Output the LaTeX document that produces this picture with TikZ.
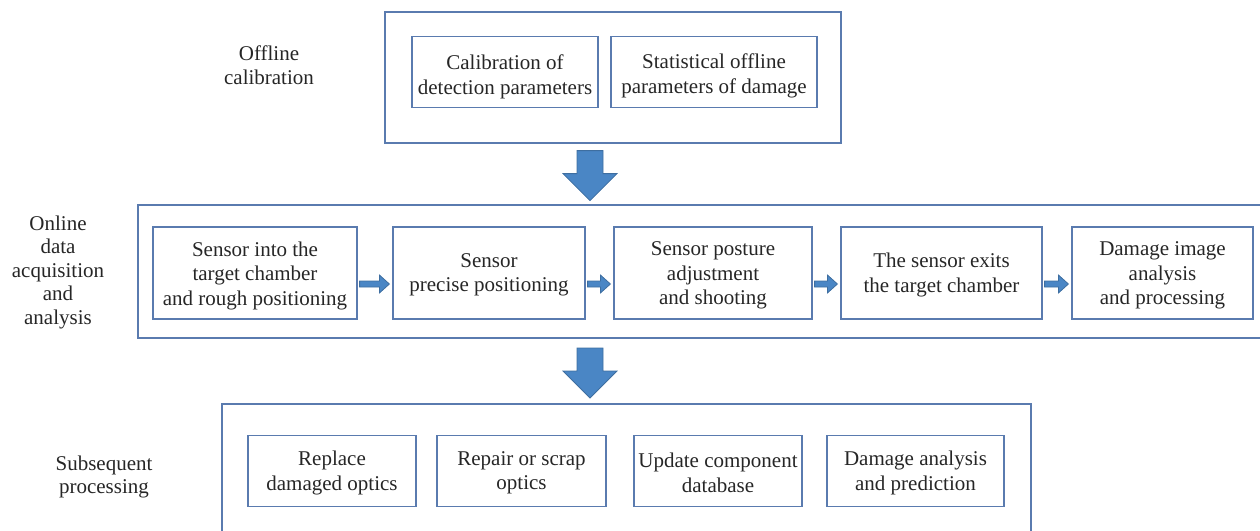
\documentclass[tikz,border=0pt]{standalone}
\usepackage{fontspec}
\setmainfont{Liberation Serif}
\usetikzlibrary{calc}
\definecolor{framec}{HTML}{5A7BAF}
\definecolor{arrfill}{HTML}{4A86C5}
\definecolor{arrdraw}{HTML}{3E6EA0}
\definecolor{txt}{HTML}{262626}
\tikzset{
  stepbox/.style={draw=framec, line width=1.2pt, inner sep=0pt},
  boxtext/.style={align=center, inner sep=0pt, text=txt, font=\fontsize{21}{24.5}\selectfont},
  framebox/.style={draw=framec, line width=1.2pt, inner sep=0pt},
  framepath/.style={draw=framec, line width=1.2pt},
  sidelabel/.style={align=center, text=txt, font=\fontsize{21}{23.5}\selectfont, inner sep=0pt},
  barrow/.style={fill=arrfill, draw=arrdraw, line width=0.8pt, line join=miter},
}
\newcommand\smallarr[2]{%
  \draw[barrow] ([shift={(2,8)}]#1.east) -- ([shift={(-13,8)}]#2.west) -- ([shift={(-13,2)}]#2.west)
   -- ([shift={(-3,11)}]#2.west) -- ([shift={(-13,20)}]#2.west) -- ([shift={(-13,14)}]#2.west)
   -- ([shift={(2,14)}]#1.east) -- cycle;}
\newcommand\bigarr[1]{%
  \draw[barrow] ([shift={(-13,0)}]#1) -- ([shift={(13,0)}]#1) -- ([shift={(13,23)}]#1)
   -- ([shift={(27,23)}]#1) -- ([shift={(0,50)}]#1) -- ([shift={(-27,23)}]#1)
   -- ([shift={(-13,23)}]#1) -- cycle;}
\begin{document}
\begin{tikzpicture}[x=1pt,y=-1pt]
\useasboundingbox (0,0) rectangle (1260,530);
% frames
\node[framebox, minimum width=456pt, minimum height=131pt] (f1) at (613,77.5) {};
\coordinate (f2tr) at (1262,205);
\coordinate (f2tl) at (138,205);
\coordinate (f2bl) at (138,338);
\coordinate (f2br) at (1262,338);
\draw[framepath] (f2tr) -- (f2tl) -- (f2bl) -- (f2br);
\coordinate (f3bl) at (222,532);
\coordinate (f3tl) at (222,404);
\coordinate (f3tr) at (1031,404);
\coordinate (f3br) at (1031,532);
\draw[framepath] (f3bl) -- (f3tl) -- (f3tr) -- (f3br);
% labels
\node[sidelabel] (l1) at (269,65) {Offline\\calibration};
\node[sidelabel] (l2) at (58,272) {Online\\data\\acquisition\\and\\analysis};
\node[sidelabel] (l3) at (104,477) {Subsequent\\processing};
% top boxes
\node[stepbox, minimum width=186pt, minimum height=71pt] (c1) at (505,72) {};
\node[boxtext] (c1t) at ([shift={(0,5)}]c1.center) {Calibration of\\detection parameters};
\node[stepbox, minimum width=206pt, minimum height=71pt] (c2) at (714,72) {};
\node[boxtext] (c2t) at ([shift={(0,4)}]c2.center) {Statistical offline\\parameters of damage};
% middle boxes
\node[stepbox, minimum width=204pt, minimum height=92pt] (b1) at (255,273) {};
\node[boxtext] (b1t) at ([shift={(0,2.5)}]b1.center) {Sensor into the\\target chamber\\and rough positioning};
\node[stepbox, minimum width=192pt, minimum height=92pt] (b2) at (489,273) {};
\node[boxtext] (b2t) at ([shift={(0,2)}]b2.center) {Sensor\\precise positioning};
\node[stepbox, minimum width=198pt, minimum height=92pt] (b3) at (713,273) {};
\node[boxtext] (b3t) at ([shift={(0,2.5)}]b3.center) {Sensor posture\\adjustment\\and shooting};
\node[stepbox, minimum width=201pt, minimum height=92pt] (b4) at (941.5,273) {};
\node[boxtext] (b4t) at ([shift={(0,2)}]b4.center) {The sensor exits\\the target chamber};
\node[stepbox, minimum width=181pt, minimum height=92pt] (b5) at (1162.5,273) {};
\node[boxtext] (b5t) at ([shift={(0,2.5)}]b5.center) {Damage image\\analysis\\and processing};
% bottom boxes
\node[stepbox, minimum width=168pt, minimum height=71pt] (d1) at (332,471) {};
\node[boxtext] (d1t) at ([shift={(0,2)}]d1.center) {Replace\\damaged optics};
\node[stepbox, minimum width=169pt, minimum height=71pt] (d2) at (521.5,471) {};
\node[boxtext] (d2t) at ([shift={(0,2)}]d2.center) {Repair or scrap\\optics};
\node[stepbox, minimum width=168pt, minimum height=71pt] (d3) at (718,471) {};
\node[boxtext] (d3t) at ([shift={(0,2)}]d3.center) {Update component\\database};
\node[stepbox, minimum width=177pt, minimum height=71pt] (d4) at (915.5,471) {};
\node[boxtext] (d4t) at ([shift={(0,2)}]d4.center) {Damage analysis\\and prediction};
% arrows
\smallarr{b1}{b2}
\smallarr{b2}{b3}
\smallarr{b3}{b4}
\smallarr{b4}{b5}
\coordinate (a1) at ([shift={(-23,7)}]f1.south);
\coordinate (a2) at ([xshift=-23pt]f1.south |- 0,348);
\bigarr{a1}
\bigarr{a2}
\end{tikzpicture}
\end{document}
